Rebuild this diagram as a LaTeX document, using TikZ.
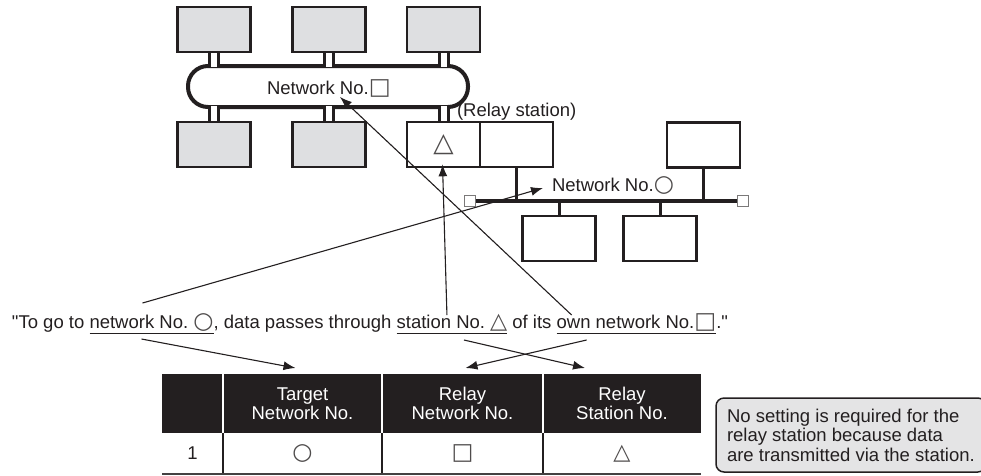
\documentclass[tikz,border=0pt]{standalone}
\usepackage{fontspec}
\setmainfont{Liberation Sans}[Ligatures=TeXOff]
\newfontfamily\symfont{DejaVu Sans}
\usetikzlibrary{arrows.meta,calc}
\definecolor{ink}{HTML}{231F20}
\definecolor{boxgray}{HTML}{DEDFE1}
\definecolor{notegray}{HTML}{E4E4E5}
\newcommand{\symcirc}{{\symfont\color{ink!80}\scalebox{1.25}{○}}}
\newcommand{\symsq}{{\symfont\color{ink!80}\scalebox{1.25}{□}}}
\newcommand{\symtri}{{\symfont\color{ink!80}\scalebox{1.2}{△}}}

\begin{document}
\begin{tikzpicture}[
    x=1pt, y=-1pt,
    txt/.style={font=\fontsize{18.5}{19.5}\selectfont, text=ink, inner sep=0pt, outer sep=0pt},
    say/.style={txt, anchor=base west},
    sta/.style={draw=ink, line width=2.6pt, minimum width=73pt, minimum height=45pt, inner sep=0pt},
    grey/.style={sta, fill=boxgray},
    stub/.style={draw=ink, line width=3pt},
    drop/.style={draw=ink, line width=3pt},
    bus/.style={draw=ink, line width=3.5pt},
    term/.style={draw=ink!60, line width=1pt, fill=white, minimum size=11pt, inner sep=0pt},
    arr/.style={-{Latex[length=12pt,width=9pt]}, line width=1.1pt, draw=ink},
    hcell/.style={txt, fill=ink, text=white, align=center, minimum height=59pt, anchor=north west},
    rcell/.style={txt, minimum height=41pt, anchor=north west},
    note/.style={txt, draw=ink, line width=1.5pt, fill=notegray, rounded corners=8pt,
                 align=left, inner xsep=11pt, minimum height=74pt, anchor=north west},
]
\useasboundingbox (0,0) rectangle (981,475);

%% Network No. square (ring)
\node[draw=ink, line width=4pt, fill=white, rounded corners=20pt,
      minimum width=280pt, minimum height=41pt] (ring) at (328,86.5) {};
\node[txt, anchor=base west] (ringnet) at (267,94) {Network No.\symsq};

\node[grey] (t1) at (214,29.5) {};
\node[grey] (t2) at (329,29.5) {};
\node[grey] (t3) at (443.5,29.5) {};
\node[grey] (b1) at (214,144.5) {};
\node[grey] (b2) at (329,144.5) {};
\node[sta, fill=white] (rsL) at (443.5,144.5) {};
\node[sta, fill=white] (rsR) at (516.5,144.5) {};
\node[txt, font=\fontsize{22}{22}\selectfont] (tri) at (rsL.center) {\symtri};
\node[txt, anchor=base west] (rslbl) at (457,116) {(Relay station)};

\foreach \s in {t1,t2,t3}{
  \fill[white] ($(\s.south)+(-3,1.4)$) rectangle ($(\s.south |- ring.north)+(3,2.6)$);
  \draw[stub] ($(\s.south)+(-4.5,0)$) -- ($(\s.south |- ring.north)+(-4.5,2)$);
  \draw[stub] ($(\s.south)+(4.5,0)$) -- ($(\s.south |- ring.north)+(4.5,2)$);
}
\foreach \s in {b1,b2,rsL}{
  \fill[white] ($(\s.north)+(-3,-1.4)$) rectangle ($(\s.north |- ring.south)+(3,-2.6)$);
  \draw[stub] ($(\s.north)+(-4.5,0)$) -- ($(\s.north |- ring.south)+(-4.5,-2)$);
  \draw[stub] ($(\s.north)+(4.5,0)$) -- ($(\s.north |- ring.south)+(4.5,-2)$);
}

%% Network No. circle (bus)
\node[sta, fill=white] (u1) at (703.5,145) {};
\node[sta, fill=white] (d1) at (559,238.5) {};
\node[sta, fill=white] (d2) at (660,238.5) {};
\node[term] (termL) at (470,201) {};
\node[term] (termR) at (743,201) {};
\draw[bus] (termL.east) -- (termR.west);
\foreach \s in {rsR,u1}
  \draw[drop] (\s.south) -- (\s.south |- termL.center);
\foreach \s in {d1,d2}
  \draw[drop] (\s.north) -- (\s.north |- termL.center);
\node[txt, anchor=base west] (busnet) at (552,191) {Network No.\symcirc};

%% Sentence
\node[say] (s1) at (12,328) {"To go to\ \null};
\node[say] (tnet) at (s1.base east) {network No.\ \symcirc};
\node[say] (s2) at (tnet.base east) {,\ data passes through\ \null};
\node[say] (stn) at (s2.base east) {station No.\ \symtri};
\node[say] (s3) at (stn.base east) {\ of its\ \null};
\node[say] (own) at (s3.base east) {own network No.\symsq};
\node[say] (s4) at (own.base east) {."};
\foreach \u in {tnet,stn,own}
  \draw[ink, line width=1pt] ($(\u.base west)+(0,5)$) -- ($(\u.base east)+(0,5)$);

%% Table
\node[hcell, minimum width=61pt] (hd0) at (162,374) {};
\node[hcell, minimum width=159pt] (hdT) at (hd0.north east) {Target\\Network No.};
\node[hcell, minimum width=161pt] (hdRN) at (hdT.north east) {Relay\\Network No.};
\node[hcell, minimum width=158pt] (hdRS) at (hdRN.north east) {Relay\\Station No.};
\node[rcell, minimum width=61pt] (r0) at (hd0.south west) {1};
\node[rcell, minimum width=159pt] (rT) at (hdT.south west) {\symcirc};
\node[rcell, minimum width=161pt] (rRN) at (hdRN.south west) {\symsq};
\node[rcell, minimum width=158pt] (rRS) at (hdRS.south west) {\symtri};
\foreach \h in {hd0,hdT,hdRN}
  \draw[white, line width=1.6pt] (\h.north east) -- (\h.south east);
\foreach \r in {r0,rT,rRN}
  \draw[ink, line width=1.1pt] (\r.north east) -- (\r.south east);
\draw[ink!85, line width=1.1pt] (r0.south west) -- (rRS.south east);

%% Arrows
\draw[arr] ($(tnet.base)+(-9,-25)$) -- ($(busnet.base west)+(-9,-3)$);
\draw[arr] ($(stn.base)+(-5,-13)$) -- ($(rsL.south)+(-1,-4)$);
\draw[arr] ($(own.base west)+(15,-13)$) -- ($(ringnet.base west)+(73,3)$);
\draw[arr] ($(tnet.base)+(-10,11)$) -- ($(hdT.north)+(-7,-6)$);
\draw[arr] ($(stn.base)+(12,12)$) -- ($(hdRS.north)+(-37,-6)$);
\draw[arr] ($(own.base west)+(30,12)$) -- ($(hdRN.north)+(3,-6)$);

%% Note
\node[note] (note) at (716,398) {No setting is required for the\\relay station because data\\are transmitted via the station.};

\end{tikzpicture}
\end{document}
